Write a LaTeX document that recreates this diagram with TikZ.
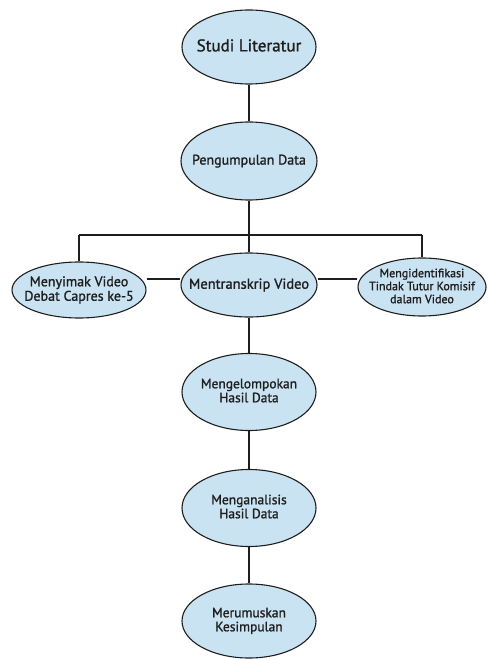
\documentclass[tikz,border=0pt]{standalone}
\usepackage{fontspec}
\setmainfont{PT Sans}[FakeBold=1.3]
\usetikzlibrary{shapes.geometric}
\definecolor{ellfill}{RGB}{202,227,242}
\definecolor{ink}{RGB}{30,30,30}
\newcommand{\lbl}[1]{\makebox[0pt]{\raisebox{-0.3em}[0pt][0pt]{\begin{tabular}{@{}c@{}}#1\end{tabular}}}}
\tikzset{
  ell/.style={ellipse, draw=ink, line width=1.1pt, fill=ellfill, inner sep=0pt, text=ink, font=\fontsize{13.5}{14}\selectfont},
  conn/.style={draw=ink, line width=1.1pt}
}
\begin{document}
\begin{tikzpicture}[x=1pt,y=-1pt]
\useasboundingbox (0,0) rectangle (488,660);
\node[ell, minimum width=134pt, minimum height=74pt, font=\fontsize{17}{18}\selectfont] (a) at (249,47) {\lbl{Studi Literatur}};
\node[ell, minimum width=136pt, minimum height=78pt, font=\fontsize{14}{15}\selectfont] (b) at (249,161) {\lbl{Pengumpulan Data}};
\node[ell, minimum width=134pt, minimum height=56pt, font=\fontsize{14}{14.5}\selectfont] (l) at (79,290) {\lbl{Menyimak Video\\Debat Capres ke-5}};
\node[ell, minimum width=136pt, minimum height=64pt, font=\fontsize{14.5}{15}\selectfont] (m) at (249,285) {\lbl{Mentranskrip Video}};
\node[ell, minimum width=128pt, minimum height=58pt, font=\fontsize{12}{13}\selectfont] (r) at (422,287) {\lbl{Mengidentifikasi\\Tindak Tutur Komisif\\dalam Video}};
\node[ell, minimum width=134pt, minimum height=77pt] (c) at (249,392) {\lbl{Mengelompokan\\Hasil Data}};
\node[ell, minimum width=134pt, minimum height=77pt] (d) at (249,508) {\lbl{Menganalisis\\Hasil Data}};
\node[ell, minimum width=134pt, minimum height=74pt] (e) at (249,621) {\lbl{Merumuskan\\Kesimpulan}};
\coordinate (bar) at (249,235);
\draw[conn] (a) -- (b);
\draw[conn] (b) -- (bar);
\draw[conn] (l.north |- bar) -- (r.north |- bar);
\draw[conn] (l.north |- bar) -- (l.north);
\draw[conn] (r.north |- bar) -- (r.north);
\draw[conn] (bar) -- (m.north);
\draw[conn] (l.east |- 0,279) -- (m.west |- 0,279);
\draw[conn] (m.east |- 0,279) -- (r.west |- 0,279);
\draw[conn] (m) -- (c);
\draw[conn] (c) -- (d);
\draw[conn] (d) -- (e);
\end{tikzpicture}
\end{document}
